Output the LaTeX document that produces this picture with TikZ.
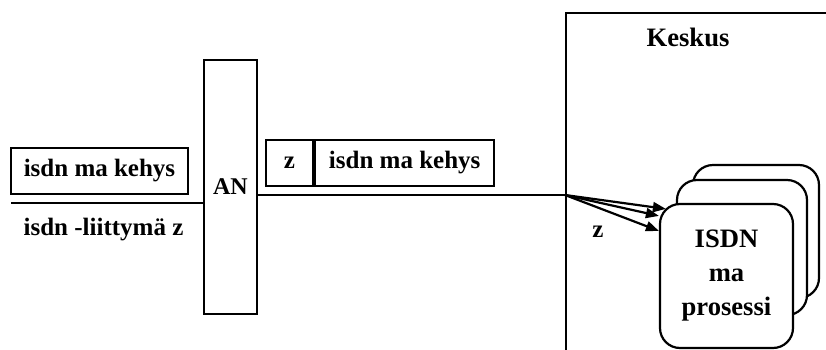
\documentclass[tikz,border=0pt]{standalone}
\usepackage{fontspec}
\setmainfont{Liberation Serif}
\usetikzlibrary{arrows.meta, positioning}

\begin{document}
\begin{tikzpicture}
    [x=0.5pt, y=-0.5pt,
     every node/.style={font=\fontsize{12.5}{16.5}\selectfont\bfseries, inner sep=0pt},
     bigtext/.style={font=\fontsize{13.3}{17}\selectfont\bfseries},
     framebox/.style={draw, line width=1.1pt, minimum height=23pt},
     procbox/.style={draw, line width=1.1pt, rounded corners=10pt, fill=white, align=center},
     wire/.style={line width=1.1pt},
     msg/.style={line width=1.1pt, -{Triangle[length=6.5pt, width=5pt]}}]

    \clip (0,0) rectangle (826,349);

    % liittyma
    \node[framebox, minimum width=88.5pt] (frameL) at (99.5,171) {isdn ma kehys};
    \coordinate (lineL) at (11,203);
    \node (liittyma) at (103.5,230) {isdn -liittymä z};

    \node[draw, line width=1.1pt, minimum width=26.5pt, minimum height=127pt,
          font=\fontsize{12}{14}\selectfont\bfseries] (AN) at (230.5,187) {AN};

    % keskukselle
    \node[framebox, minimum width=23.5pt] (zbox) at (289.5,163) {z};
    \node[framebox, minimum width=89.5pt, right=0pt of zbox] (frameR) {isdn ma kehys};
    \coordinate (hub) at (565,195);

    % keskus
    \node[draw, line width=1.1pt, minimum width=140pt, minimum height=185pt, anchor=north west] (keskus) at (565,12) {};
    \node[bigtext] (keskusLabel) at (688,37) {Keskus};

    \node[procbox, minimum width=63pt, minimum height=66.5pt] (proc3) at (756,231.5) {};
    \node[procbox, minimum width=65pt, minimum height=67.5pt] (proc2) at (742,247.5) {};
    \node[procbox, bigtext, minimum width=66.5pt, minimum height=72pt] (proc1) at (726.5,276) {ISDN\\ma\\prosessi};
    \node (zlabel) at (598,232) {z};

    \draw[wire] (lineL) -- (lineL -| AN.west);
    \draw[wire] (AN.east |- hub) -- (hub);
    \draw[msg] (hub) -- ([xshift=3.5pt, yshift=-3pt]proc1.north west);
    \draw[msg] (hub) -- ([yshift=-6.5pt]proc1.north west);
    \draw[msg] (hub) -- ([yshift=-14pt]proc1.north west);
\end{tikzpicture}
\end{document}
